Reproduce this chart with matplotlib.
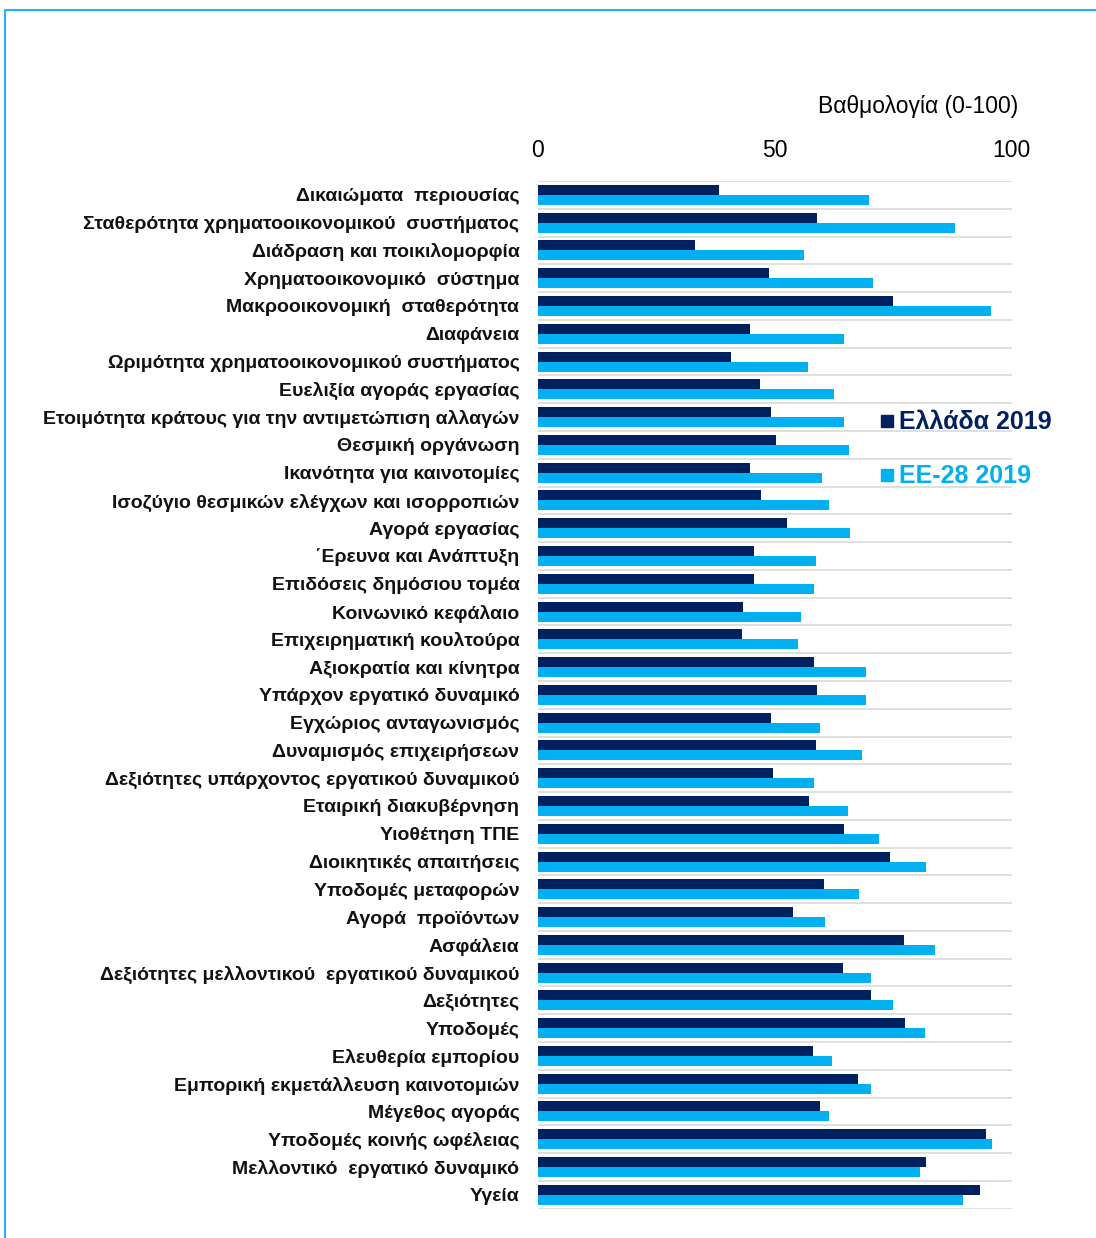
import matplotlib
matplotlib.use('Agg')
import matplotlib.pyplot as plt
import numpy as np
from matplotlib.patches import Rectangle

plt.rcParams['font.family'] = ['Liberation Sans', 'DejaVu Sans']

categories = [
    "Δικαιώματα  περιουσίας",
    "Σταθερότητα χρηματοοικονομικού  συστήματος",
    "Διάδραση και ποικιλομορφία",
    "Χρηματοοικονομικό  σύστημα",
    "Μακροοικονομική  σταθερότητα",
    "Διαφάνεια",
    "Ωριμότητα χρηματοοικονομικού συστήματος",
    "Ευελιξία αγοράς εργασίας",
    "Ετοιμότητα κράτους για την αντιμετώπιση αλλαγών",
    "Θεσμική οργάνωση",
    "Ικανότητα για καινοτομίες",
    "Ισοζύγιο θεσμικών ελέγχων και ισορροπιών",
    "Αγορά εργασίας",
    "΄Ερευνα και Ανάπτυξη",
    "Επιδόσεις δημόσιου τομέα",
    "Κοινωνικό κεφάλαιο",
    "Επιχειρηματική κουλτούρα",
    "Αξιοκρατία και κίνητρα",
    "Υπάρχον εργατικό δυναμικό",
    "Εγχώριος ανταγωνισμός",
    "Δυναμισμός επιχειρήσεων",
    "Δεξιότητες υπάρχοντος εργατικού δυναμικού",
    "Εταιρική διακυβέρνηση",
    "Υιοθέτηση ΤΠΕ",
    "Διοικητικές απαιτήσεις",
    "Υποδομές μεταφορών",
    "Αγορά  προϊόντων",
    "Ασφάλεια",
    "Δεξιότητες μελλοντικού  εργατικού δυναμικού",
    "Δεξιότητες",
    "Υποδομές",
    "Ελευθερία εμπορίου",
    "Εμπορική εκμετάλλευση καινοτομιών",
    "Μέγεθος αγοράς",
    "Υποδομές κοινής ωφέλειας",
    "Μελλοντικό  εργατικό δυναμικό",
    "Υγεία",
]

greece = [38.2, 58.9, 33.3, 48.8, 74.9, 44.9, 40.8, 47.0, 49.3, 50.4,
          44.9, 47.2, 52.7, 45.7, 45.7, 43.4, 43.1, 58.4, 58.9, 49.3,
          58.7, 49.6, 57.3, 64.6, 74.4, 60.5, 53.8, 77.2, 64.4, 70.3,
          77.5, 58.2, 67.5, 59.5, 94.6, 81.9, 93.3]
eu28 = [70.0, 88.1, 56.1, 70.8, 95.6, 64.6, 57.1, 62.5, 64.6, 65.6,
        59.9, 61.5, 65.8, 58.7, 58.4, 55.5, 55.0, 69.2, 69.2, 59.5,
        68.5, 58.4, 65.4, 72.1, 81.9, 67.7, 60.7, 83.9, 70.3, 74.9,
        81.7, 62.0, 70.3, 61.5, 95.9, 80.6, 89.7]

dark = '#002060'
light = '#00B0F0'

W, H = 1096, 1238
fig = plt.figure(figsize=(W / 100, H / 100), dpi=100)
ax = fig.add_axes([537.5 / W, 1 - 1208.7 / H, (1011.7 - 537.5) / W, (1208.7 - 181) / H])

y = np.arange(len(categories))
h = 0.36
ax.barh(y - h / 2, greece, height=h, color=dark, label='Ελλάδα 2019')
ax.barh(y + h / 2, eu28, height=h, color=light, label='ΕΕ-28 2019')

ax.set_xlim(0, 100)
ax.set_ylim(len(categories) - 0.5, -0.5)

# γραμμές πλέγματος ανάμεσα στις κατηγορίες
for b in np.arange(-0.5, len(categories), 1.0):
    ax.axhline(b, color='#d9d9d9', lw=1.2, zorder=0)

ax.xaxis.tick_top()
ax.set_xticks([0, 50, 100])
ax.tick_params(axis='x', length=0, pad=14, labelsize=16.5)
ax.set_yticks(y)
ax.set_yticklabels(categories, fontsize=14, fontweight='bold', color='#111111')
ax.tick_params(axis='y', length=0, pad=13)
for s in ax.spines.values():
    s.set_visible(False)

fig.text(1018 / W, 1 - 106 / H, 'Βαθμολογία (0-100)', ha='right', va='center', fontsize=16.5)

# υπόμνημα δεξιά
for ypx, base, name, col in [(421, 429, 'Ελλάδα 2019', dark), (475, 483, 'ΕΕ-28 2019', light)]:
    fig.patches.append(Rectangle((881 / W, 1 - (ypx + 6) / H), 12 / W, 12 / H,
                                 transform=fig.transFigure, color=col))
    fig.text(899 / W, 1 - base / H, name, color=col, fontsize=18, fontweight='bold',
             va='baseline', ha='left')

# εξωτερικό πλαίσιο
fig.patches.append(Rectangle((4.5 / W, -0.05), 1.2, 1 - 9.5 / H + 0.05, transform=fig.transFigure,
                             fill=False, edgecolor='#1fb4ee', lw=1.5))

fig.savefig('out.png', dpi=100)
